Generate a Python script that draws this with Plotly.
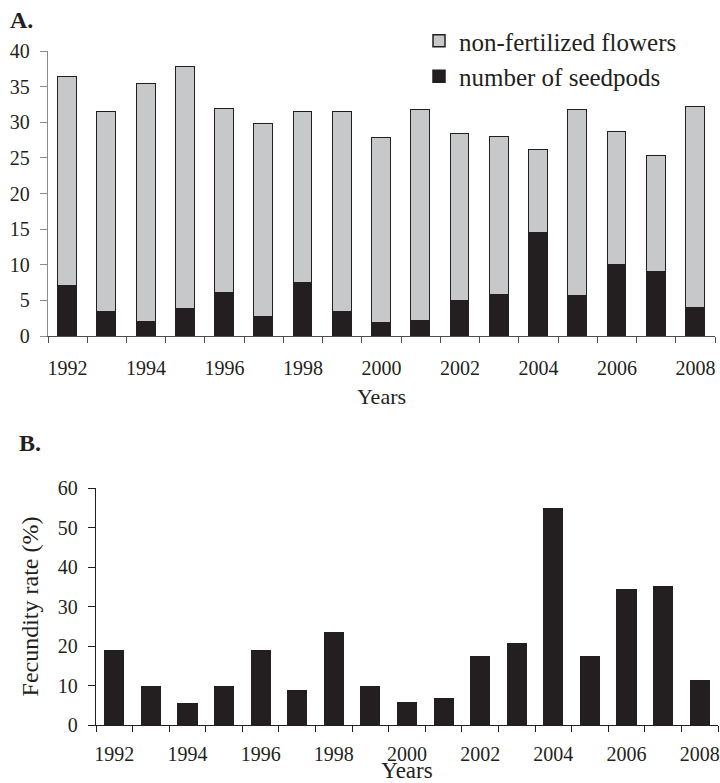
import plotly.graph_objects as go

# ---------------- data ----------------
years = list(range(1992, 2009))
seedpods = [7.0, 3.3, 2.0, 3.8, 6.0, 2.7, 7.4, 3.3, 1.8, 2.1, 4.9, 5.8, 14.5, 5.6, 9.9, 9.0, 4.0]
non_fertilized = [29.4, 28.1, 33.3, 34.0, 25.9, 27.1, 24.0, 28.1, 26.0, 29.6, 23.5, 22.2, 11.6, 26.1, 18.8, 16.3, 28.1]
fecundity = [19.0, 10.0, 5.6, 10.0, 19.0, 8.8, 23.5, 10.0, 5.9, 6.8, 17.4, 20.7, 55.0, 17.4, 34.5, 35.3, 11.4]
year_ticks = [1992, 1994, 1996, 1998, 2000, 2002, 2004, 2006, 2008]
a_yticks = [0, 5, 10, 15, 20, 25, 30, 35, 40]
b_yticks = [0, 10, 20, 30, 40, 50, 60]
boundaries = [y - 0.5 for y in years] + [years[-1] + 0.5]

W, H = 720, 783
FONT = "Liberation Serif, Times New Roman, serif"
DARK = "#231f20"
GRAY = "#c7c8ca"

fig = go.Figure()
fig.add_trace(go.Bar(x=years, y=seedpods, name="number of seedpods", width=0.48,
                     marker=dict(color=DARK, line=dict(color=DARK, width=1.5)),
                     xaxis="x", yaxis="y"))
fig.add_trace(go.Bar(x=years, y=non_fertilized, name="non-fertilized flowers", width=0.48,
                     marker=dict(color=GRAY, line=dict(color=DARK, width=1.5)),
                     xaxis="x", yaxis="y"))
fig.add_trace(go.Bar(x=years, y=fecundity, name="Fecundity rate", width=0.55,
                     marker=dict(color=DARK, line=dict(width=0)),
                     showlegend=False, xaxis="x2", yaxis="y2"))

tickfont = dict(family=FONT, size=20, color="#231f20")

fig.update_layout(
    width=W, height=H,
    margin=dict(l=0, r=0, t=0, b=0),
    paper_bgcolor="white", plot_bgcolor="white",
    barmode="stack", bargap=0,
    font=dict(family=FONT, color="#231f20"),
    showlegend=True,
    legend=dict(x=419 / W, y=1 - 18 / H, xanchor="left", yanchor="top",
                traceorder="reversed", font=dict(family=FONT, size=25, color="#231f20"),
                bgcolor="rgba(0,0,0,0)", itemwidth=30, tracegroupgap=0),
    xaxis=dict(domain=[48 / W, 715 / W], range=[1991.5, 2008.5], anchor="y",
               tickmode="array", tickvals=year_ticks, ticks="", ticklabelstandoff=14,
               showline=True, linecolor="#4d4d4d", linewidth=1.3, showgrid=False, zeroline=False,
               minor=dict(tickmode="array", tickvals=boundaries, ticks="outside", ticklen=6,
                          tickcolor="#4d4d4d", tickwidth=1.3, showgrid=False),
               tickfont=tickfont, automargin=False,
               title=dict(text="Years", font=dict(family=FONT, size=22, color="#231f20"), standoff=10)),
    yaxis=dict(domain=[1 - 336 / H, 1 - 51 / H], range=[0, 40], anchor="x",
               tickmode="array", tickvals=a_yticks, ticks="outside", ticklen=7,
               tickcolor="#8c8c8c", tickwidth=1.3, ticklabelstandoff=6,
               showline=True, linecolor="#8c8c8c", linewidth=1.3, showgrid=False, zeroline=False,
               tickfont=tickfont, automargin=False),
    xaxis2=dict(domain=[96 / W, 718 / W], range=[1991.5, 2008.5], anchor="y2",
                tickmode="array", tickvals=year_ticks, ticks="", ticklabelstandoff=11,
                showline=True, linecolor="#231f20", linewidth=1.3, showgrid=False, zeroline=False,
                minor=dict(tickmode="array", tickvals=boundaries, ticks="outside", ticklen=6,
                           tickcolor="#231f20", tickwidth=1.3, showgrid=False),
                tickfont=tickfont, automargin=False,
                title=dict(text="Years", font=dict(family=FONT, size=23, color="#231f20"), standoff=6)),
    yaxis2=dict(domain=[1 - 725 / H, 1 - 488 / H], range=[0, 60], anchor="x2",
                tickmode="array", tickvals=b_yticks, ticks="outside", ticklen=7,
                tickcolor="#231f20", tickwidth=1.3, ticklabelstandoff=6,
                showline=True, linecolor="#231f20", linewidth=1.3, showgrid=False, zeroline=False,
                tickfont=tickfont, automargin=False,
                title=dict(text="Fecundity rate (%)", font=dict(family=FONT, size=24, color="#231f20"),
                           standoff=12)),
    annotations=[
        dict(text="<b>A.</b>", x=8 / W, y=1 - 5 / H, xref="paper", yref="paper",
             xanchor="left", yanchor="top", showarrow=False,
             font=dict(family=FONT, size=24, color="#231f20")),
        dict(text="<b>B.</b>", x=17 / W, y=1 - 428 / H, xref="paper", yref="paper",
             xanchor="left", yanchor="top", showarrow=False,
             font=dict(family=FONT, size=24, color="#231f20")),
    ],
)

fig.write_html("out.html", config={"displayModeBar": False},
               post_script="document.body.style.margin='0';document.body.style.overflow='hidden';")
